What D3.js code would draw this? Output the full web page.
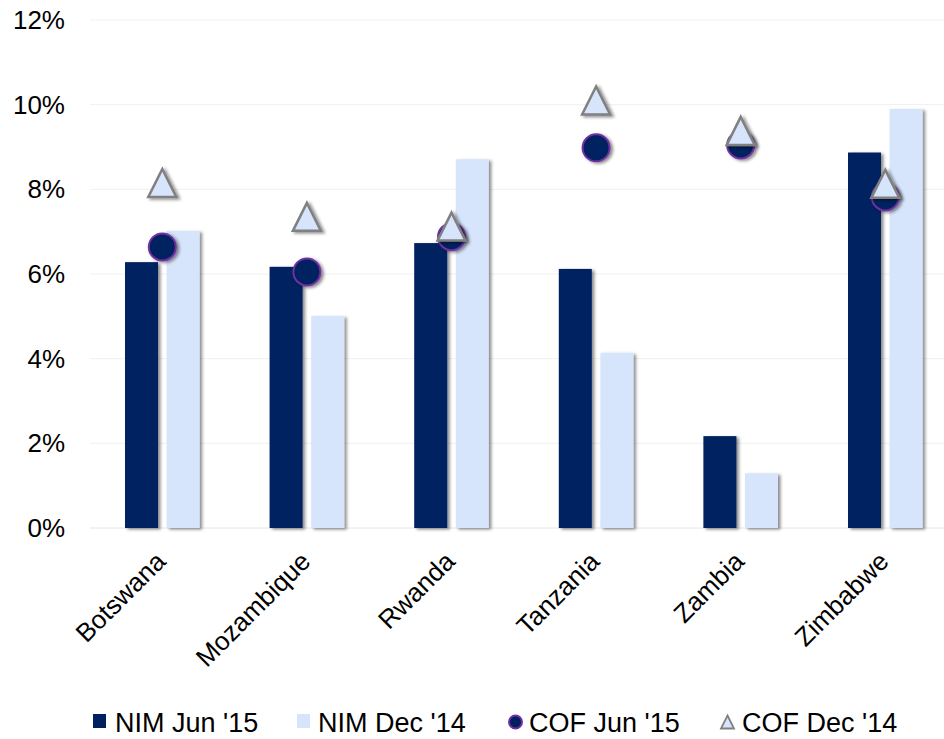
<!DOCTYPE html>
<html>
<head>
<meta charset="utf-8">
<script src="https://cdn.jsdelivr.net/npm/d3@7"></script>
<style>
  html, body { margin: 0; padding: 0; background: #fff; }
  svg { display: block; font-family: "Liberation Sans", Arial, sans-serif; }
</style>
</head>
<body>
<svg id="chart" width="944" height="739"></svg>
<script>
const categories = ["Botswana", "Mozambique", "Rwanda", "Tanzania", "Zambia", "Zimbabwe"];
const nimJun15 = [6.28, 6.17, 6.73, 6.12, 2.17, 8.87];
const nimDec14 = [7.02, 5.01, 8.71, 4.14, 1.29, 9.90];
const cofJun15 = [6.64, 6.05, 6.88, 8.98, 9.05, 7.82];
const cofDec14 = [8.15, 7.35, 7.12, 10.10, 9.38, 8.13];
const yTicks = [0, 2, 4, 6, 8, 10, 12];
const seriesNames = ["NIM Jun '15", "NIM Dec '14", "COF Jun '15", "COF Dec '14"];

const colDark = "#002060";
const colLight = "#d6e4fc";
const colPurple = "#7030a0";
const colGrey = "#808080";

const svg = d3.select("#chart");
const defs = svg.append("defs");
const f = defs.append("filter").attr("id", "shadow")
  .attr("x", "-30%").attr("y", "-10%").attr("width", "160%").attr("height", "130%");
f.append("feDropShadow").attr("dx", 2.5).attr("dy", 1.5).attr("stdDeviation", 1.8)
  .attr("flood-color", "#000").attr("flood-opacity", 0.45);

const x = d3.scaleBand().domain(categories).range([90, 957.6]).padding(0);
const y = d3.scaleLinear().domain([0, 12]).range([528, 20]);

// gridlines
svg.append("g").selectAll("line").data(yTicks).join("line")
  .attr("x1", 90).attr("x2", 944)
  .attr("y1", d => y(d)).attr("y2", d => y(d))
  .attr("stroke", d => d === 0 ? "#e6e6e6" : "#f0f0f0").attr("stroke-width", 1);

// y labels
svg.append("g").selectAll("text").data(yTicks).join("text")
  .attr("x", 65).attr("y", d => y(d)).attr("dy", "0.35em")
  .attr("text-anchor", "end").attr("font-size", 26).attr("fill", "#000")
  .text(d => d + "%");

const cx = c => x(c) + x.bandwidth() / 2;
const barW = 33;
const gap = 4.3;

// bars
const gBars = svg.append("g").attr("filter", "url(#shadow)");
gBars.selectAll("rect.dark").data(categories).join("rect").attr("class", "dark")
  .attr("x", (c) => cx(c) - gap - barW).attr("width", barW)
  .attr("y", (c, i) => y(nimJun15[i])).attr("height", (c, i) => y(0) - y(nimJun15[i]))
  .attr("fill", colDark);
gBars.selectAll("rect.light").data(categories).join("rect").attr("class", "light")
  .attr("x", (c) => cx(c) + gap).attr("width", barW)
  .attr("y", (c, i) => y(nimDec14[i])).attr("height", (c, i) => y(0) - y(nimDec14[i]))
  .attr("fill", colLight);

// circles
svg.append("g").attr("filter", "url(#shadow)").selectAll("circle").data(categories).join("circle")
  .attr("cx", c => cx(c)).attr("cy", (c, i) => y(cofJun15[i])).attr("r", 13.5)
  .attr("fill", colDark).attr("stroke", colPurple).attr("stroke-width", 2);

// triangles
const tri = s => `M0,${-s} L${s},${s} L${-s},${s} Z`;
svg.append("g").attr("filter", "url(#shadow)").selectAll("path").data(categories).join("path")
  .attr("transform", (c, i) => `translate(${cx(c)},${y(cofDec14[i])})`)
  .attr("d", tri(14))
  .attr("fill", colLight).attr("stroke", colGrey).attr("stroke-width", 2.5)
  .attr("stroke-linejoin", "miter");

// x labels
svg.append("g").selectAll("text").data(categories).join("text")
  .attr("transform", c => `translate(${cx(c) + 5},${563}) rotate(-45)`)
  .attr("text-anchor", "end").attr("font-size", 26).attr("fill", "#000")
  .text(c => c);

// legend
const lg = svg.append("g").attr("font-size", 27).attr("fill", "#000");
const legendX = [93, 297, 508, 720];
const textX = [115, 318, 529, 742];
const base = 732;
lg.append("rect").attr("x", legendX[0]).attr("y", base - 18).attr("width", 13).attr("height", 14).attr("fill", colDark);
lg.append("rect").attr("x", legendX[1]).attr("y", base - 18).attr("width", 13).attr("height", 14).attr("fill", colLight);
lg.append("circle").attr("cx", legendX[2] + 7.5).attr("cy", base - 10).attr("r", 6.5)
  .attr("fill", colDark).attr("stroke", colPurple).attr("stroke-width", 2);
lg.append("path").attr("transform", `translate(${legendX[3] + 7.5},${base - 10})`).attr("d", tri(6.5))
  .attr("fill", colLight).attr("stroke", colGrey).attr("stroke-width", 1.8);
lg.selectAll("text").data(seriesNames).join("text")
  .attr("x", (d, i) => textX[i]).attr("y", base)
  .text(d => d);
</script>
</body>
</html>
